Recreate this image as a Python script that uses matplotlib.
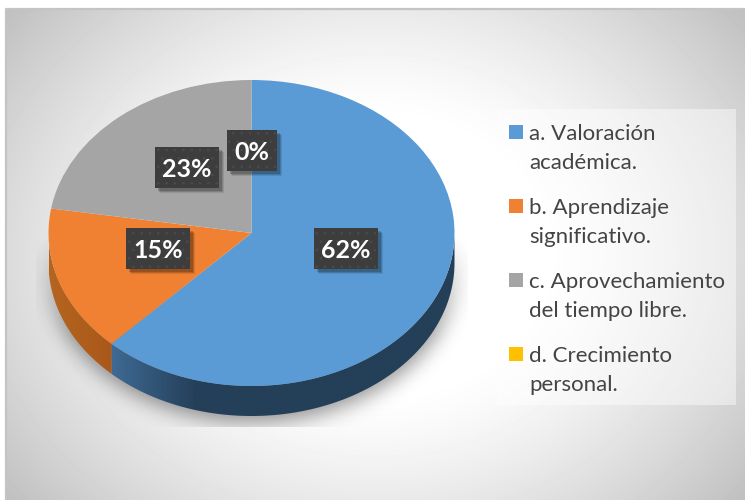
#!/usr/bin/env python3
import numpy as np
import matplotlib
matplotlib.use('Agg')
import matplotlib.pyplot as plt
from matplotlib.colors import LinearSegmentedColormap
from matplotlib.patches import Rectangle, Polygon

plt.rcParams['font.family'] = ['Lato', 'DejaVu Sans']
plt.rcParams['hatch.linewidth'] = 0.6

categories = ['a. Valoración\nacadémica.', 'b. Aprendizaje\nsignificativo.',
              'c. Aprovechamiento\ndel tiempo libre.', 'd. Crecimiento\npersonal.']
values = [62.3, 15.49, 22.51, 0]
colors = ['#5B9BD5', '#F08132', '#A5A5A5', '#FFC000']
value_labels = ['62%', '15%', '23%', '0%']

W, H = 745, 500
cx, cy, rx, ry, depth = 251.5, 233, 203, 153, 30

fig = plt.figure(figsize=(W / 100, H / 100), dpi=100)

# background + shadow, everything in pixel coords
bg = fig.add_axes([0, 0, 1, 1], zorder=0)
bg.axis('off')

yy, xx = np.mgrid[0:H, 0:W]
r = np.hypot((xx - 375) / 370, (yy - 255) / 300)
shade = 1 - 0.25 * (np.clip(r - 0.45, 0, None) / 0.84) ** 1.3
bg.imshow(shade[9:, 6:], extent=(6, W, H, 9), cmap='gray', vmin=0, vmax=1, aspect='auto', zorder=1)
bg.plot([6, 6, W], [H, 9, 9], color='#C4C4C4', lw=1.6, zorder=2)

# soft shadow under the pie
mask = (((xx - cx) / 207) ** 2 + ((yy - 262) / 160) ** 2 <= 1).astype(float)
kx = np.exp(-0.5 * (np.arange(-30, 31) / 10.0) ** 2)
kx /= kx.sum()
mask = np.apply_along_axis(lambda row: np.convolve(row, kx, mode='same'), 1, mask)
mask = np.apply_along_axis(lambda col: np.convolve(col, kx, mode='same'), 0, mask)
rgba = np.zeros((H, W, 4))
rgba[..., 3] = 0.42 * mask * np.clip((yy - 235) / 100, 0, 1)
im = bg.imshow(rgba, extent=(0, W, H, 0), aspect='auto', zorder=3)
im.set_clip_path(Rectangle((36, 235), 432, 192, transform=bg.transData))

# side wall of the pie
ends = np.cumsum(values) / np.sum(values) * 360
starts = ends - np.array(values) / np.sum(values) * 360
wall_ramps = [['#3F6A94', '#243F58', '#243F58', '#243F58', '#243F58'],
              ['#B5651F', '#A9581A'], None, None]
for st, en, ramp in zip(starts, ends, wall_ramps):
    if ramp is None:
        continue
    a0, a1 = max(st, 90), min(en, 270)
    if a1 <= a0:
        continue
    ang = np.radians(np.linspace(a0, a1, 120))
    px = cx + rx * np.sin(ang)
    py = cy - ry * np.cos(ang)
    poly = np.r_[np.c_[px, py], np.c_[px[::-1], py[::-1] + depth]]
    cmap = LinearSegmentedColormap.from_list('w', ramp)
    grad = np.linspace(0, 1, 256).reshape(1, -1)
    g = bg.imshow(grad, extent=(px.min(), px.max(), H, 0), cmap=cmap, aspect='auto', zorder=4)
    g.set_clip_path(Polygon(poly, closed=True, transform=bg.transData))
bg.set_xlim(0, W)
bg.set_ylim(H, 0)

# top of the pie, squashed to an ellipse
pie_ax = fig.add_axes([(cx - rx) / W, 1 - (cy + ry) / H, 2 * rx / W, 2 * ry / H], zorder=1)
pie_ax.pie(values, colors=colors, startangle=90, counterclock=False, radius=1,
           wedgeprops={'linewidth': 0})
pie_ax.set_xlim(-1, 1)
pie_ax.set_ylim(-1, 1)
pie_ax.set_aspect('auto')
pie_ax.patch.set_alpha(0)

# overlay: data labels and legend
top = fig.add_axes([0, 0, 1, 1], zorder=2)
top.set_xlim(0, W)
top.set_ylim(H, 0)
top.axis('off')
top.patch.set_alpha(0)

label_boxes = [(314, 228, 64, 41), (126, 228, 64, 41), (155, 147, 64, 41), (227, 130, 50, 41)]
for (x, y, w, h), lab in zip(label_boxes, value_labels):
    for off, al in [(5, 0.10), (4, 0.14), (3, 0.18)]:
        top.add_patch(Rectangle((x + off, y + off), w, h, fc='black', ec='none', alpha=al, zorder=3))
    top.add_patch(Rectangle((x, y), w, h, fc='#3D3D3D', ec='none', zorder=4))
    top.add_patch(Rectangle((x, y), w, h, fc='none', ec='#4B4B4B', lw=0, hatch='..', zorder=5))
    top.text(x + w / 2, y + h / 2 + 2, lab, color='white', fontsize=18, fontweight='bold',
             ha='center', va='center', zorder=6)

top.add_patch(Rectangle((497, 109), 239, 296, fc='white', ec='none', alpha=0.45, zorder=1))
legend_y = [125, 199, 273, 347]
for y, name, col in zip(legend_y, categories, colors):
    top.add_patch(Rectangle((509, y), 14, 14, fc=col, ec='none', zorder=2))
    first, second = name.split('\n')
    top.text(529, y + 15, first, fontsize=16, color='#444444', va='baseline', zorder=2)
    top.text(529, y + 44, second, fontsize=16, color='#444444', va='baseline', zorder=2)

fig.savefig('out.png', dpi=100, facecolor='white')
